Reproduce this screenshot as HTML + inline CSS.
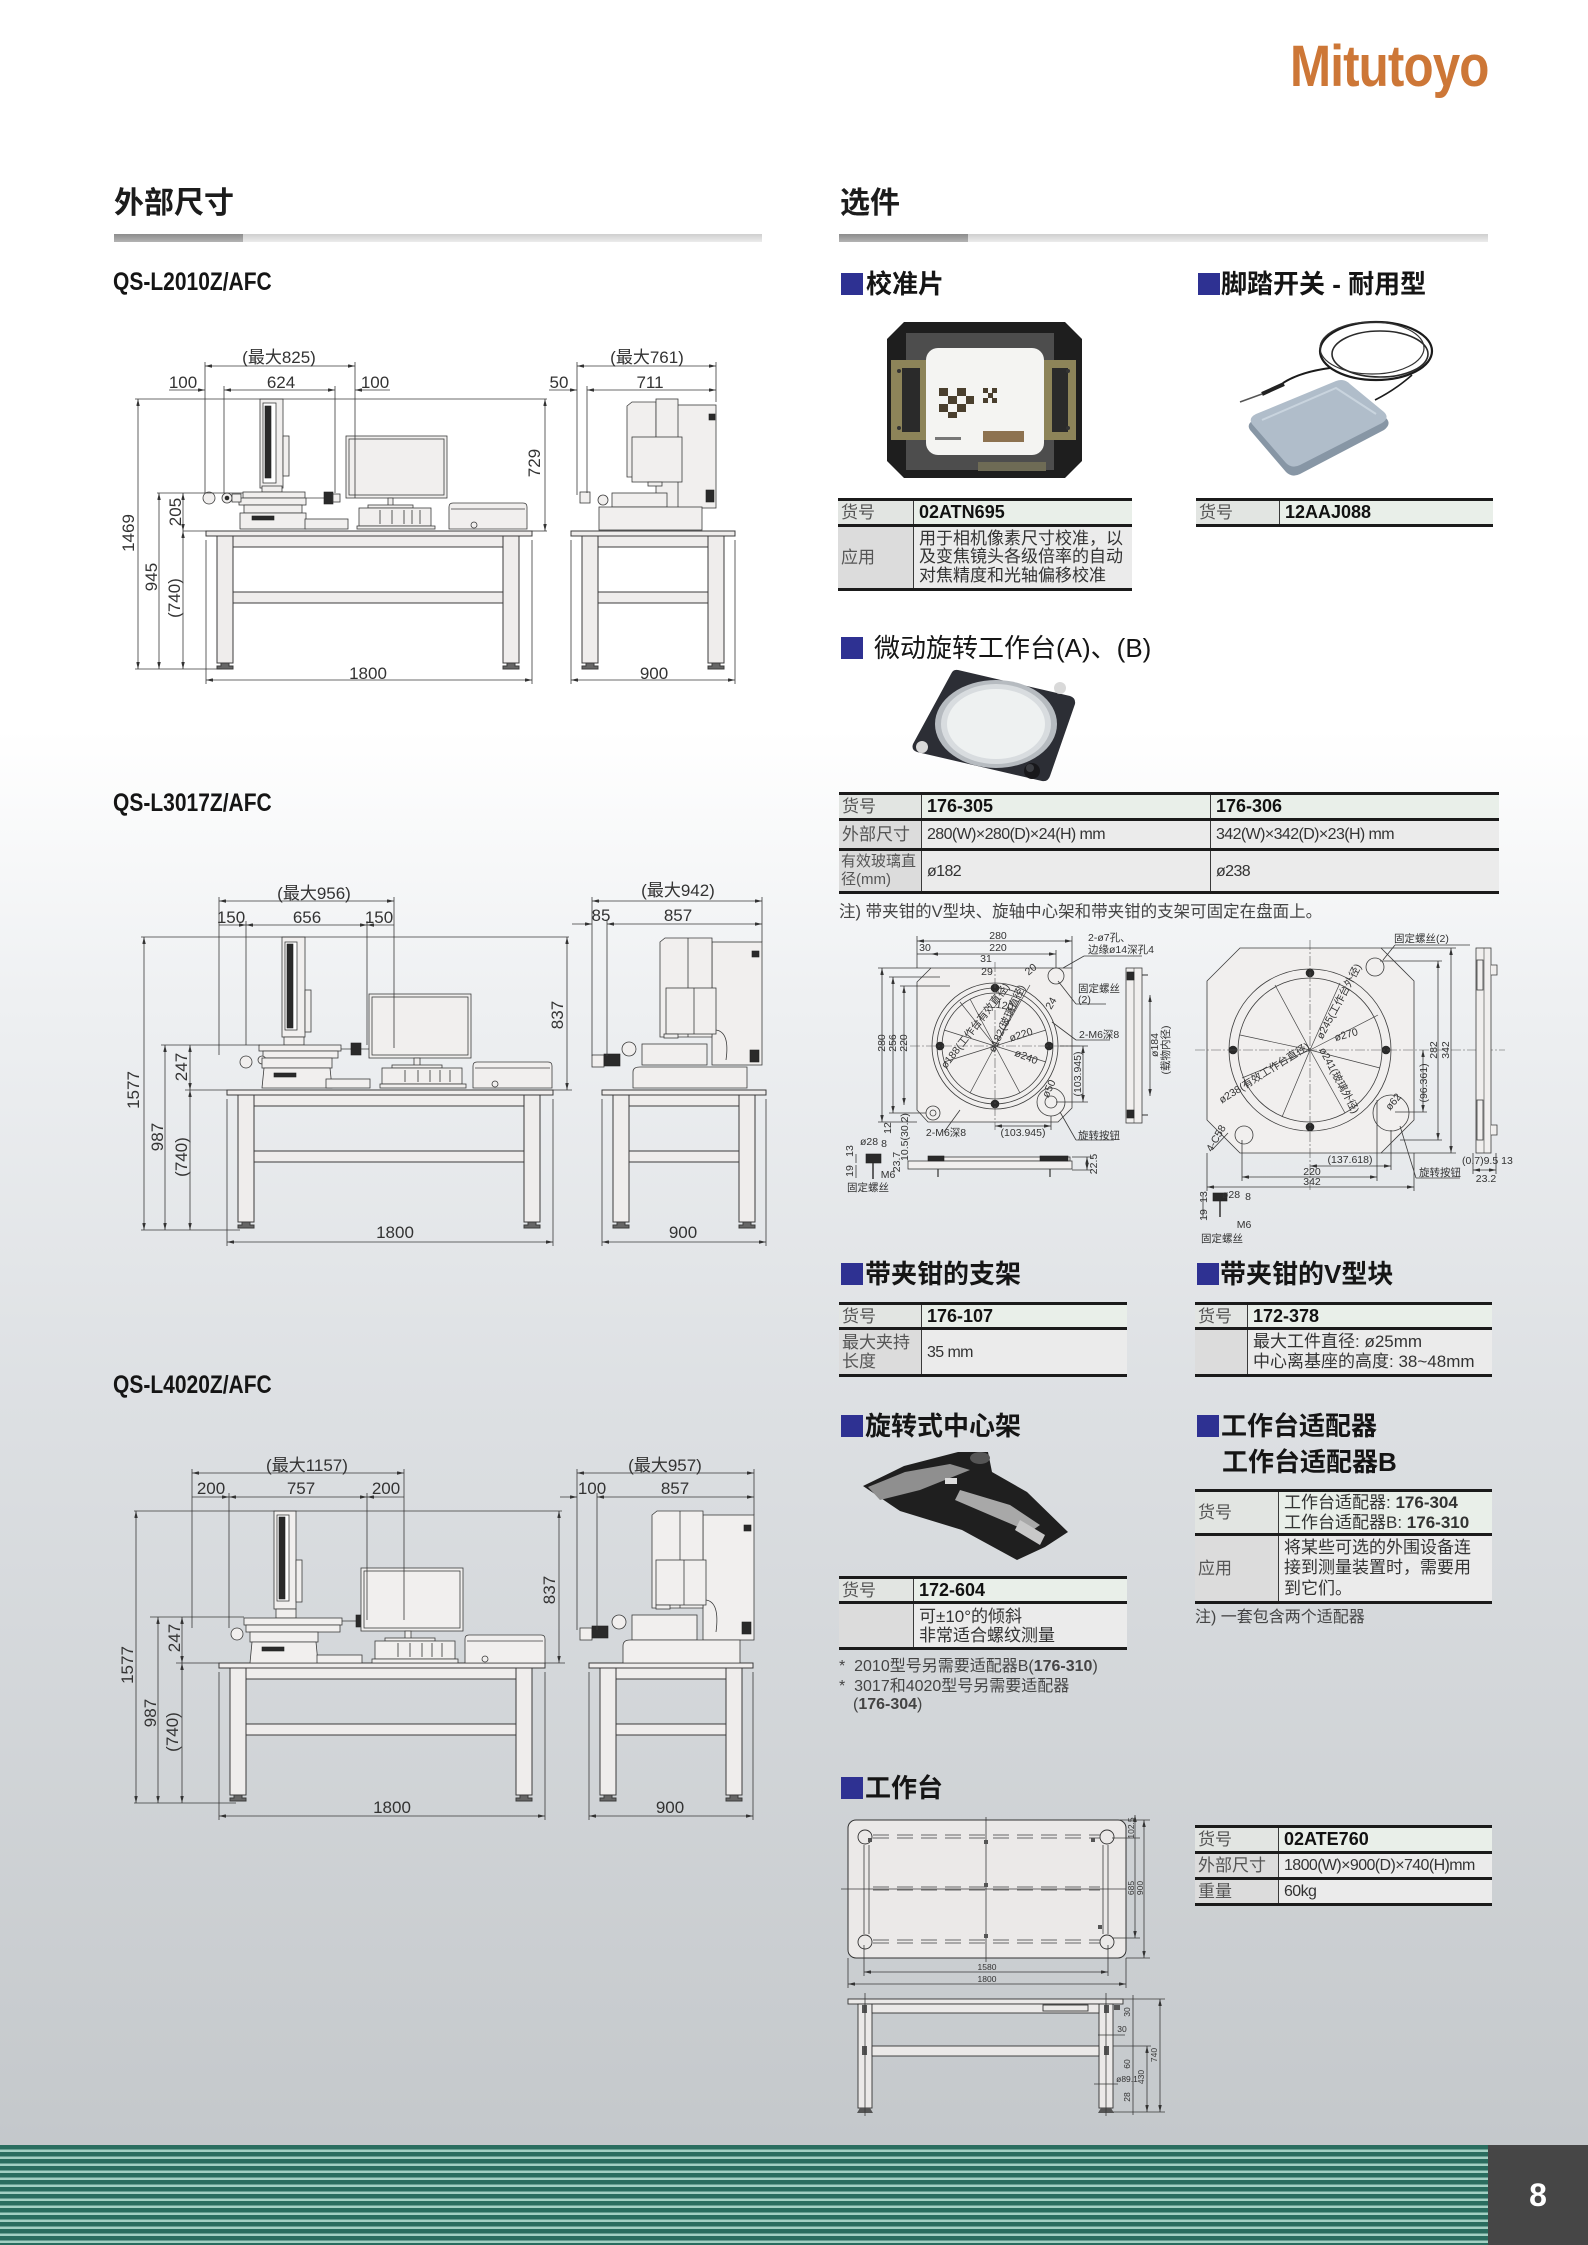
<!DOCTYPE html>
<html><head><meta charset="utf-8"><title>QS-L</title>
<style>
*{margin:0;padding:0;box-sizing:border-box}
html,body{width:1588px;height:2245px}
body{position:relative;overflow:hidden;font-family:"Liberation Sans","Noto Sans CJK SC",sans-serif;color:#222;
background:linear-gradient(180deg,#ffffff 0px,#ffffff 730px,#eef0f2 1000px,#dde0e3 1400px,#c4c8cb 2145px,#c4c8cb 2245px)}
svg.main{position:absolute;left:0;top:0}
.a{position:absolute;white-space:nowrap}
.h1{font-size:30px;line-height:30px;font-weight:bold;color:#1c1c1c}
.qs{font-family:"Liberation Sans Narrow","Liberation Sans",sans-serif;font-size:25px;line-height:25px;font-weight:bold;color:#151515;transform:scaleX(0.84);transform-origin:0 0}
.sq{position:absolute;width:22px;height:22px;background:#2e3192}
.st{position:absolute;white-space:nowrap;font-size:26px;line-height:26px;font-weight:bold;color:#151515}
.bar{position:absolute;height:8px;background:linear-gradient(#cfcfcf,#ececec)}
.bar i{position:absolute;left:0;top:0;height:8px;width:129px;background:linear-gradient(#8c8c8c,#b3b3b3)}
.tb{position:absolute;border-top:3px solid #1b1b1b;border-bottom:3px solid #1b1b1b}
.r{display:flex}
.r+.r{border-top:3px solid #1b1b1b}
.l{background:#dcdcdc;color:#555;border-right:1.5px solid #3a3a3a;padding-left:3px;display:flex;align-items:center;font-size:17px;line-height:19px;flex:none;white-space:nowrap;overflow:hidden}
.v{flex:1;background:#ebebeb;color:#333;padding-left:5px;display:flex;align-items:center;font-size:17px;line-height:19px;white-space:nowrap;overflow:hidden}
.v2{border-right:1.5px solid #3a3a3a;flex:none}
.hd .l{background:#e2e5e2}
.hd .v{background:#e9efe9;color:#111;font-weight:bold;font-size:18px}
.n{font-family:"Liberation Sans Narrow","Liberation Sans","Noto Sans CJK SC",sans-serif}
.v.n{font-size:16px;letter-spacing:-0.6px}
.note{position:absolute;white-space:nowrap;font-size:16px;line-height:18px;color:#444}
.foot{position:absolute;left:0;top:2145px;width:1488px;height:100px;background:repeating-linear-gradient(180deg,#2a6d5f 0px,#2a6d5f 4.5px,#a3d0c3 4.5px,#a3d0c3 7px)}
.pg{position:absolute;left:1488px;top:2145px;width:100px;height:100px;background:#464646;color:#fff;font-family:"Liberation Sans Narrow","Liberation Sans",sans-serif;font-size:32px;line-height:100px;text-align:center;font-weight:bold}
</style></head><body>

<svg class="main" width="1588" height="2245" viewBox="0 0 1588 2245" xmlns="http://www.w3.org/2000/svg">
<defs>
<marker id="ar" viewBox="0 0 8 4" refX="8" refY="2" markerWidth="7" markerHeight="3.5" orient="auto-start-reverse" markerUnits="userSpaceOnUse"><path d="M0,0L8,2L0,4z" fill="#333"/></marker>
<g id="tf" fill="#efedec" stroke="#3c3c3c" stroke-width="1">
 <rect x="0" y="0" width="326" height="5"/>
 <rect x="11" y="5" width="16" height="127"/>
 <rect x="297" y="5" width="16" height="127"/>
 <rect x="27" y="5" width="270" height="11"/>
 <rect x="27" y="61" width="270" height="11"/>
 <path d="M15,132h8v3h4v3h-16v-3h4z M301,132h8v3h4v3h-16v-3h4z" fill="#666"/>
</g>
<g id="ts" fill="#efedec" stroke="#3c3c3c" stroke-width="1">
 <rect x="0" y="0" width="164" height="5"/>
 <rect x="11" y="5" width="16" height="127"/>
 <rect x="137" y="5" width="16" height="127"/>
 <rect x="27" y="5" width="110" height="11"/>
 <rect x="27" y="61" width="110" height="11"/>
 <path d="M15,132h8v3h4v3h-16v-3h4z M141,132h8v3h4v3h-16v-3h4z" fill="#666"/>
</g>
</defs>
<style>
.dl line,.dl path.o{stroke:#3a3a3a;stroke-width:0.8;fill:none}
.dm{marker-start:url(#ar);marker-end:url(#ar)}
.me{marker-end:url(#ar)}
.t{font-family:"Liberation Sans Narrow","Liberation Sans","Noto Sans CJK SC",sans-serif;font-size:17px;fill:#333;text-anchor:middle}
.s{font-family:"Liberation Sans Narrow","Liberation Sans","Noto Sans CJK SC",sans-serif;font-size:10.5px;fill:#333;text-anchor:middle}
.sl{text-anchor:start}
.xs{font-family:"Liberation Sans Narrow","Liberation Sans",sans-serif;font-size:8.5px;fill:#333;text-anchor:middle}
.m{fill:#f1efee;stroke:#3c3c3c;stroke-width:0.8}
.k{fill:#2a2a2a;stroke:#222;stroke-width:0.6}
.cl{stroke:#555;stroke-width:0.6;stroke-dasharray:10 2 2 2;fill:none}
</style>

<!-- ============ DRAWING 1 (QS-L2010Z) ============ -->
<use href="#tf" x="206" y="531"/>
<use href="#ts" x="571" y="531"/>
<g class="m">
 <rect x="260" y="399" width="23" height="89"/>
 <rect x="263" y="403" width="13" height="80" fill="#fff"/>
 <rect x="265" y="406" width="6" height="72" class="k"/>
 <rect x="283" y="436" width="6" height="40"/>
 <rect x="262" y="486" width="20" height="6"/>
 <rect x="243" y="492" width="62" height="6"/>
 <rect x="239" y="498" width="67" height="7"/>
 <line x1="306" y1="498" x2="330" y2="498"/>
 <rect x="324" y="492" width="9" height="12" class="k"/>
 <rect x="333" y="494" width="7" height="8"/>
 <circle cx="209" cy="498" r="6"/>
 <circle cx="227" cy="498" r="5"/>
 <circle cx="227" cy="498" r="2" class="k"/>
 <rect x="232" y="494" width="9" height="8"/>
 <rect x="244" y="505" width="58" height="8"/>
 <rect x="240" y="513" width="66" height="16"/>
 <rect x="252" y="516" width="22" height="4" class="k"/>
 <rect x="305" y="519" width="43" height="10"/>
 <rect x="346" y="436" width="101" height="62"/>
 <rect x="349" y="439" width="95" height="56"/>
 <rect x="388" y="498" width="5" height="8"/>
 <rect x="368" y="505" width="45" height="3"/>
 <rect x="359" y="508" width="72" height="18"/>
 <path d="M380,510v14M392,510v14M404,510v14M412,510v14M420,510v14" stroke="#333" fill="none"/>
 <rect x="357" y="526" width="78" height="3"/>
 <path d="M449,529V507Q449,503 453,503H523Q527,503 527,507V529Z"/>
 <line x1="451" y1="509" x2="525" y2="509"/>
 <circle cx="474" cy="525" r="3"/>
 <!-- side -->
 <rect x="676" y="405" width="40" height="103"/>
 <path d="M627,406L632,402H656V477H627Z"/>
 <rect x="656" y="399" width="22" height="109"/>
 <rect x="632" y="437" width="50" height="45"/>
 <rect x="648" y="482" width="14" height="4"/>
 <rect x="612" y="493" width="55" height="14"/>
 <rect x="599" y="507" width="103" height="23"/>
 <circle cx="603" cy="500" r="5"/>
 <rect x="580" y="492" width="10" height="11"/>
 <rect x="709" y="414" width="6" height="6" class="k"/>
 <rect x="706" y="490" width="8" height="12" class="k"/>
</g>
<g class="dl">
 <line x1="205" y1="366" x2="355" y2="366" class="dm"/>
 <line x1="224" y1="390" x2="335" y2="390" class="dm"/>
 <line x1="169" y1="390" x2="205" y2="390" class="me"/>
 <line x1="390" y1="390" x2="355" y2="390" class="me"/>
 <line x1="205" y1="362" x2="205" y2="493"/>
 <line x1="224" y1="386" x2="224" y2="493"/>
 <line x1="335" y1="386" x2="335" y2="493"/>
 <line x1="355" y1="362" x2="355" y2="498"/>
 <line x1="135" y1="399" x2="547" y2="399"/>
 <line x1="157" y1="493" x2="243" y2="493"/>
 <line x1="183" y1="531" x2="206" y2="531"/>
 <line x1="532" y1="531" x2="547" y2="531"/>
 <line x1="135" y1="669" x2="222" y2="669"/>
 <line x1="138" y1="399" x2="138" y2="669" class="dm"/>
 <line x1="159" y1="493" x2="159" y2="669" class="dm"/>
 <line x1="183" y1="493" x2="183" y2="531" class="dm"/>
 <line x1="183" y1="531" x2="183" y2="669" class="dm"/>
 <line x1="545" y1="399" x2="545" y2="531" class="dm"/>
 <line x1="206" y1="680" x2="532" y2="680" class="dm"/>
 <line x1="206" y1="540" x2="206" y2="684"/>
 <line x1="532" y1="540" x2="532" y2="684"/>
 <line x1="571" y1="680" x2="735" y2="680" class="dm"/>
 <line x1="571" y1="540" x2="571" y2="684"/>
 <line x1="735" y1="540" x2="735" y2="684"/>
 <line x1="577" y1="366" x2="716" y2="366" class="dm"/>
 <line x1="549" y1="390" x2="577" y2="390" class="me"/>
 <line x1="587" y1="390" x2="716" y2="390" class="dm"/>
 <line x1="577" y1="362" x2="577" y2="495"/>
 <line x1="587" y1="386" x2="587" y2="493"/>
 <line x1="716" y1="362" x2="716" y2="402"/>
</g>
<text class="t" x="279" y="363">(最大825)</text>
<text class="t" x="183" y="388">100</text><text class="t" x="281" y="388">624</text><text class="t" x="375" y="388">100</text>
<text class="t" transform="translate(134,533) rotate(-90)">1469</text>
<text class="t" transform="translate(157,577) rotate(-90)">945</text>
<text class="t" transform="translate(181,512) rotate(-90)">205</text>
<text class="t" transform="translate(180,598) rotate(-90)">(740)</text>
<text class="t" transform="translate(540,463) rotate(-90)">729</text>
<text class="t" x="368" y="679">1800</text>
<text class="t" x="654" y="679">900</text>
<text class="t" x="647" y="363">(最大761)</text>
<text class="t" x="559" y="388">50</text><text class="t" x="650" y="388">711</text>

<!-- ============ DRAWING 2 (QS-L3017Z) ============ -->
<use href="#tf" x="227" y="1090"/>
<use href="#ts" x="602" y="1090"/>
<g class="m">
 <rect x="282" y="937" width="23" height="100"/>
 <rect x="285" y="942" width="12" height="88" fill="#fff"/>
 <rect x="287" y="944" width="6" height="84" class="k"/>
 <rect x="305" y="990" width="6" height="42"/>
 <rect x="284" y="1037" width="20" height="8"/>
 <rect x="259" y="1045" width="82" height="6"/>
 <rect x="263" y="1051" width="75" height="7"/>
 <circle cx="246" cy="1062" r="6"/>
 <circle cx="262" cy="1060" r="4"/>
 <line x1="341" y1="1049" x2="385" y2="1049"/>
 <rect x="351" y="1043" width="10" height="12" class="k"/>
 <rect x="380" y="1043" width="8" height="10"/>
 <rect x="262" y="1058" width="70" height="10"/>
 <path d="M264,1068H330L332,1088H262Z"/>
 <rect x="274" y="1073" width="22" height="4" class="k"/>
 <rect x="326" y="1079" width="44" height="9"/>
 <rect x="369" y="994" width="102" height="64"/>
 <rect x="372" y="997" width="96" height="58"/>
 <rect x="414" y="1058" width="6" height="8"/>
 <rect x="392" y="1065" width="50" height="3"/>
 <rect x="382" y="1068" width="80" height="16"/>
 <path d="M405,1070v12M418,1070v12M430,1070v12M440,1070v12M450,1070v12" stroke="#333" fill="none"/>
 <rect x="380" y="1084" width="86" height="4"/>
 <path d="M473,1088V1066Q473,1062 477,1062H548Q552,1062 552,1066V1088Z"/>
 <line x1="475" y1="1068" x2="550" y2="1068"/>
 <circle cx="495" cy="1084" r="3"/>
 <!-- side -->
 <rect x="712" y="942" width="50" height="123"/>
 <path d="M660,942L665,938H712V1037H660Z"/>
 <line x1="688" y1="938" x2="688" y2="1037"/>
 <rect x="666" y="988" width="50" height="46"/>
 <line x1="694" y1="988" x2="694" y2="1034"/>
 <rect x="664" y="1034" width="14" height="4"/>
 <path d="M716,1030Q730,1032 726,1060" fill="none"/>
 <rect x="642" y="1044" width="65" height="21"/>
 <path d="M633,1088V1072Q633,1067 640,1067H747V1088Z"/>
 <circle cx="629" cy="1049" r="7"/>
 <rect x="592" y="1055" width="12" height="12"/>
 <rect x="604" y="1054" width="16" height="12" class="k"/>
 <rect x="752" y="951" width="7" height="6" class="k"/>
 <rect x="750" y="1050" width="9" height="12" class="k"/>
</g>
<g class="dl">
 <line x1="219" y1="901" x2="394" y2="901" class="dm"/>
 <line x1="246" y1="925" x2="367" y2="925" class="dm"/>
 <line x1="219" y1="925" x2="246" y2="925" class="me"/>
 <line x1="394" y1="925" x2="367" y2="925" class="me"/>
 <line x1="219" y1="897" x2="219" y2="1055"/>
 <line x1="246" y1="921" x2="246" y2="1045"/>
 <line x1="367" y1="921" x2="367" y2="1045"/>
 <line x1="394" y1="897" x2="394" y2="1048"/>
 <line x1="141" y1="937" x2="569" y2="937"/>
 <line x1="161" y1="1045" x2="260" y2="1045"/>
 <line x1="185" y1="1090" x2="227" y2="1090"/>
 <line x1="553" y1="1090" x2="572" y2="1090"/>
 <line x1="141" y1="1230" x2="240" y2="1230"/>
 <line x1="144" y1="937" x2="144" y2="1230" class="dm"/>
 <line x1="165" y1="1045" x2="165" y2="1230" class="dm"/>
 <line x1="190" y1="1045" x2="190" y2="1090" class="dm"/>
 <line x1="190" y1="1090" x2="190" y2="1230" class="dm"/>
 <line x1="567" y1="937" x2="567" y2="1090" class="dm"/>
 <line x1="227" y1="1242" x2="553" y2="1242" class="dm"/>
 <line x1="227" y1="1099" x2="227" y2="1246"/>
 <line x1="553" y1="1099" x2="553" y2="1246"/>
 <line x1="602" y1="1242" x2="766" y2="1242" class="dm"/>
 <line x1="602" y1="1099" x2="602" y2="1246"/>
 <line x1="766" y1="1099" x2="766" y2="1246"/>
 <line x1="592" y1="901" x2="762" y2="901" class="dm"/>
 <line x1="572" y1="924" x2="592" y2="924" class="me"/>
 <line x1="607" y1="924" x2="762" y2="924" class="dm"/>
 <line x1="592" y1="897" x2="592" y2="1056"/>
 <line x1="607" y1="920" x2="607" y2="1056"/>
 <line x1="762" y1="897" x2="762" y2="942"/>
</g>
<text class="t" x="314" y="899">(最大956)</text>
<text class="t" x="231" y="923">150</text><text class="t" x="307" y="923">656</text><text class="t" x="379" y="923">150</text>
<text class="t" transform="translate(139,1090) rotate(-90)">1577</text>
<text class="t" transform="translate(163,1137) rotate(-90)">987</text>
<text class="t" transform="translate(187,1067) rotate(-90)">247</text>
<text class="t" transform="translate(187,1157) rotate(-90)">(740)</text>
<text class="t" transform="translate(563,1015) rotate(-90)">837</text>
<text class="t" x="395" y="1238">1800</text>
<text class="t" x="683" y="1238">900</text>
<text class="t" x="678" y="896">(最大942)</text>
<text class="t" x="601" y="921">85</text><text class="t" x="678" y="921">857</text>

<!-- ============ DRAWING 3 (QS-L4020Z) ============ -->
<use href="#tf" x="219" y="1663"/>
<use href="#ts" x="589" y="1663"/>
<g class="m">
 <rect x="274" y="1511" width="22" height="98"/>
 <rect x="277" y="1515" width="12" height="86" fill="#fff"/>
 <rect x="279" y="1517" width="6" height="82" class="k"/>
 <rect x="296" y="1560" width="6" height="42"/>
 <rect x="276" y="1609" width="20" height="9"/>
 <rect x="244" y="1618" width="98" height="7"/>
 <rect x="246" y="1625" width="94" height="7"/>
 <circle cx="237" cy="1634" r="6"/>
 <line x1="342" y1="1621" x2="405" y2="1621"/>
 <rect x="356" y="1615" width="10" height="12" class="k"/>
 <rect x="393" y="1615" width="8" height="10"/>
 <rect x="250" y="1632" width="68" height="10"/>
 <path d="M252,1642H316L318,1663H250Z"/>
 <rect x="262" y="1647" width="22" height="4" class="k"/>
 <rect x="317" y="1655" width="45" height="8"/>
 <rect x="361" y="1568" width="102" height="63"/>
 <rect x="364" y="1571" width="96" height="57"/>
 <rect x="405" y="1631" width="6" height="8"/>
 <rect x="385" y="1638" width="50" height="3"/>
 <rect x="375" y="1641" width="80" height="18"/>
 <path d="M398,1643v14M410,1643v14M422,1643v14M432,1643v14M442,1643v14" stroke="#333" fill="none"/>
 <rect x="372" y="1659" width="86" height="4"/>
 <path d="M465,1663V1639Q465,1635 469,1635H541Q545,1635 545,1639V1663Z"/>
 <line x1="467" y1="1641" x2="543" y2="1641"/>
 <circle cx="485" cy="1659" r="3"/>
 <!-- side -->
 <rect x="703" y="1515" width="51" height="125"/>
 <path d="M652,1515L657,1511H703V1608H652Z"/>
 <line x1="680" y1="1511" x2="680" y2="1608"/>
 <rect x="656" y="1560" width="50" height="45"/>
 <line x1="684" y1="1560" x2="684" y2="1605"/>
 <rect x="656" y="1605" width="14" height="4"/>
 <path d="M706,1600Q720,1602 716,1632" fill="none"/>
 <rect x="632" y="1615" width="65" height="25"/>
 <path d="M623,1663V1646Q623,1640 630,1640H740V1663Z"/>
 <circle cx="619" cy="1622" r="7"/>
 <rect x="580" y="1628" width="12" height="12"/>
 <rect x="592" y="1626" width="16" height="12" class="k"/>
 <rect x="744" y="1525" width="7" height="6" class="k"/>
 <rect x="742" y="1622" width="9" height="12" class="k"/>
</g>
<g class="dl">
 <line x1="192" y1="1473" x2="404" y2="1473" class="dm"/>
 <line x1="229" y1="1497" x2="367" y2="1497" class="dm"/>
 <line x1="192" y1="1497" x2="229" y2="1497" class="me"/>
 <line x1="404" y1="1497" x2="367" y2="1497" class="me"/>
 <line x1="192" y1="1469" x2="192" y2="1628"/>
 <line x1="229" y1="1493" x2="229" y2="1628"/>
 <line x1="367" y1="1493" x2="367" y2="1620"/>
 <line x1="404" y1="1469" x2="404" y2="1620"/>
 <line x1="134" y1="1511" x2="562" y2="1511"/>
 <line x1="150" y1="1617" x2="244" y2="1617"/>
 <line x1="176" y1="1663" x2="219" y2="1663"/>
 <line x1="545" y1="1663" x2="565" y2="1663"/>
 <line x1="134" y1="1803" x2="236" y2="1803"/>
 <line x1="136" y1="1511" x2="136" y2="1803" class="dm"/>
 <line x1="158" y1="1617" x2="158" y2="1803" class="dm"/>
 <line x1="182" y1="1617" x2="182" y2="1663" class="dm"/>
 <line x1="182" y1="1663" x2="182" y2="1803" class="dm"/>
 <line x1="559" y1="1511" x2="559" y2="1663" class="dm"/>
 <line x1="219" y1="1816" x2="545" y2="1816" class="dm"/>
 <line x1="219" y1="1672" x2="219" y2="1820"/>
 <line x1="545" y1="1672" x2="545" y2="1820"/>
 <line x1="589" y1="1816" x2="753" y2="1816" class="dm"/>
 <line x1="589" y1="1672" x2="589" y2="1820"/>
 <line x1="753" y1="1672" x2="753" y2="1820"/>
 <line x1="577" y1="1473" x2="754" y2="1473" class="dm"/>
 <line x1="560" y1="1497" x2="577" y2="1497" class="me"/>
 <line x1="597" y1="1497" x2="754" y2="1497" class="dm"/>
 <line x1="577" y1="1469" x2="577" y2="1630"/>
 <line x1="597" y1="1493" x2="597" y2="1630"/>
 <line x1="754" y1="1469" x2="754" y2="1515"/>
</g>
<text class="t" x="307" y="1471">(最大1157)</text>
<text class="t" x="211" y="1494">200</text><text class="t" x="301" y="1494">757</text><text class="t" x="386" y="1494">200</text>
<text class="t" transform="translate(133,1665) rotate(-90)">1577</text>
<text class="t" transform="translate(156,1713) rotate(-90)">987</text>
<text class="t" transform="translate(180,1638) rotate(-90)">247</text>
<text class="t" transform="translate(178,1732) rotate(-90)">(740)</text>
<text class="t" transform="translate(555,1590) rotate(-90)">837</text>
<text class="t" x="392" y="1813">1800</text>
<text class="t" x="670" y="1813">900</text>
<text class="t" x="665" y="1471">(最大957)</text>
<text class="t" x="592" y="1494">100</text><text class="t" x="675" y="1494">857</text>

<!-- ============ PHOTO: calibration plate ============ -->
<path d="M904,322H1065L1082,339V461L1065,478H904L887,461V339Z" fill="#1e1e1e"/>
<rect x="906" y="333" width="148" height="137" fill="#4d4d4d"/>
<rect x="891" y="360" width="37" height="80" fill="#8d8459"/>
<rect x="902" y="368" width="18" height="64" fill="#2a2a2a"/>
<rect x="1044" y="360" width="32" height="80" fill="#8d8459"/>
<rect x="1052" y="368" width="16" height="64" fill="#2a2a2a"/>
<circle cx="899" cy="371" r="2" fill="#333"/><circle cx="899" cy="428" r="2" fill="#333"/>
<circle cx="1068" cy="371" r="2" fill="#333"/><circle cx="1068" cy="428" r="2" fill="#333"/>
<rect x="926" y="348" width="118" height="107" rx="12" fill="#f4f4f2"/>
<g fill="#4a3f2e">
 <rect x="939" y="388" width="9" height="8"/><rect x="957" y="388" width="9" height="8"/><rect x="948" y="396" width="9" height="8"/><rect x="966" y="396" width="8" height="8"/>
 <rect x="939" y="404" width="9" height="8"/><rect x="957" y="404" width="9" height="8"/><rect x="948" y="412" width="9" height="6"/>
 <rect x="983" y="388" width="5" height="5"/><rect x="992" y="388" width="5" height="5"/><rect x="988" y="393" width="5" height="5"/><rect x="983" y="398" width="5" height="5"/><rect x="992" y="398" width="5" height="5"/>
</g>
<rect x="983" y="431" width="41" height="11" fill="#8d7250"/>
<rect x="935" y="437" width="26" height="3" fill="#777"/>
<rect x="978" y="462" width="68" height="9" fill="#6e6b55"/>

<!-- ============ PHOTO: foot switch ============ -->
<ellipse cx="1376" cy="351" rx="56" ry="29" fill="none" stroke="#1b1b1b" stroke-width="2.2"/>
<ellipse cx="1380" cy="354" rx="48" ry="23" fill="none" stroke="#2a2a2a" stroke-width="1.6"/>
<ellipse cx="1372" cy="348" rx="52" ry="26" fill="none" stroke="#333" stroke-width="1.2"/>
<path d="M1283,383Q1300,372 1330,368" fill="none" stroke="#1b1b1b" stroke-width="2"/>
<path d="M1375,400Q1395,390 1412,375" fill="none" stroke="#1b1b1b" stroke-width="1.6"/>
<path d="M1240,402L1262,394" stroke="#555" stroke-width="1.5"/>
<path d="M1262,394L1284,384" stroke="#222" stroke-width="4"/>
<path d="M1250,430Q1246,424 1254,420L1336,385Q1344,382 1350,388L1386,418Q1392,424 1384,430L1300,474Q1292,478 1286,472Z" fill="#8796a5"/>
<path d="M1252,424Q1248,418 1256,414L1336,381Q1344,378 1350,384L1384,412Q1390,418 1382,423L1300,465Q1292,469 1286,463Z" fill="#b0bdca"/>
<path d="M1262,420L1336,388L1376,414" fill="none" stroke="#c9d4de" stroke-width="2"/>

<!-- ============ PHOTO: rotary table ============ -->
<path d="M958,670L1070,696Q1076,698 1075,704L1050,776Q1048,782 1042,781L917,752Q911,750 913,744L951,674Q953,669 958,670Z" fill="#2c2e35"/>
<ellipse cx="996" cy="724" rx="61" ry="44" fill="#b6bbc0"/>
<ellipse cx="996" cy="724" rx="55" ry="40" fill="#d8dcdf"/>
<ellipse cx="996" cy="724" rx="49" ry="35" fill="#eef1f1"/>
<circle cx="1060" cy="688" r="6" fill="#d9d9d9"/>
<circle cx="922" cy="747" r="6" fill="#d9d9d9"/>
<circle cx="1032" cy="771" r="8" fill="#18181b"/>
<circle cx="1030" cy="768" r="4" fill="#3b3d42"/>

<!-- ============ ROTARY A drawing ============ -->
<path d="M931,968H1072V1108L1058,1122H928L917,1110V982Z" class="m" fill="#ecebea"/>
<circle cx="995" cy="1046" r="63" class="m"/>
<circle cx="995" cy="1046" r="58" class="m"/>
<circle cx="995" cy="1046" r="53" class="m" fill="#efeeed"/>
<g stroke="#444" stroke-width="0.7">
 <line x1="995" y1="1046" x2="1046" y2="1030"/><line x1="995" y1="1046" x2="1020" y2="999"/>
 <line x1="995" y1="1046" x2="970" y2="999"/><line x1="995" y1="1046" x2="944" y2="1030"/>
 <line x1="995" y1="1046" x2="944" y2="1062"/><line x1="995" y1="1046" x2="970" y2="1093"/>
 <line x1="995" y1="1046" x2="1020" y2="1093"/><line x1="995" y1="1046" x2="1046" y2="1062"/>
 <line x1="995" y1="1046" x2="960" y2="1002"/><line x1="995" y1="1046" x2="1030" y2="985"/>
</g>
<circle cx="995" cy="988" r="4" class="k"/><circle cx="995" cy="1104" r="4" class="k"/>
<circle cx="940" cy="1046" r="4" class="k"/><circle cx="1049" cy="1046" r="4" class="k"/>
<circle cx="1056" cy="976" r="8" class="m"/>
<circle cx="933" cy="1113" r="7" class="m"/><circle cx="933" cy="1113" r="3" class="m"/>
<circle cx="1051" cy="1102" r="14" class="m"/><circle cx="1051" cy="1102" r="6" class="m"/>
<line x1="910" y1="1046" x2="1080" y2="1046" class="cl"/>
<line x1="995" y1="962" x2="995" y2="1130" class="cl"/>
<rect x="1126" y="968" width="16" height="155" class="m"/>
<line x1="1134" y1="968" x2="1134" y2="1123" stroke="#444" stroke-width="0.6"/>
<rect x="1127" y="972" width="7" height="8" class="k"/><rect x="1127" y="1110" width="7" height="8" class="k"/>
<path d="M1142,975h6M1142,1115h6" stroke="#333"/>
<rect x="930" y="1157" width="140" height="4" class="m"/>
<rect x="908" y="1161" width="164" height="8" class="m"/>
<rect x="928" y="1156" width="16" height="5" class="k"/><rect x="1040" y="1156" width="28" height="5" class="k"/>
<path d="M938,1169v8M1050,1169v8" stroke="#333" stroke-width="1.2"/>
<rect x="866" y="1154" width="15" height="9" class="k"/>
<path d="M873,1163v16" stroke="#333" stroke-width="1.5"/>
<g class="dl">
 <line x1="917" y1="941" x2="1072" y2="941" class="dm"/>
 <line x1="931" y1="954" x2="1056" y2="954" class="dm"/>
 <line x1="917" y1="954" x2="931" y2="954"/>
 <line x1="917" y1="936" x2="917" y2="968"/>
 <line x1="1072" y1="936" x2="1072" y2="968"/>
 <line x1="1056" y1="950" x2="1056" y2="968"/>
 <line x1="882" y1="968" x2="882" y2="1122" class="dm"/>
 <line x1="893" y1="977" x2="893" y2="1113" class="dm"/>
 <line x1="904" y1="986" x2="904" y2="1105" class="dm"/>
 <line x1="878" y1="968" x2="931" y2="968"/>
 <line x1="889" y1="977" x2="940" y2="977"/>
 <line x1="900" y1="986" x2="950" y2="986"/>
 <line x1="878" y1="1122" x2="917" y2="1122"/>
 <line x1="889" y1="1113" x2="926" y2="1113"/>
 <line x1="1083" y1="1046" x2="1083" y2="1102" class="dm"/>
 <line x1="1056" y1="1102" x2="1088" y2="1102"/>
 <line x1="1060" y1="1046" x2="1088" y2="1046"/>
 <line x1="995" y1="1126" x2="1051" y2="1126" class="dm"/>
 <line x1="1051" y1="1116" x2="1051" y2="1130"/>
 <line x1="1150" y1="995" x2="1150" y2="1096" class="dm"/>
 <line x1="1058" y1="981" x2="1076" y2="1004"/><line x1="1076" y1="1004" x2="1106" y2="1004"/>
 <line x1="1052" y1="1022" x2="1076" y2="1040"/><line x1="1076" y1="1040" x2="1110" y2="1040"/>
 <line x1="1060" y1="1112" x2="1076" y2="1140"/><line x1="1076" y1="1140" x2="1114" y2="1140"/>
 <line x1="1063" y1="968" x2="1084" y2="956"/><line x1="1084" y1="956" x2="1142" y2="956"/>
 <line x1="960" y1="1110" x2="944" y2="1132"/>
 <line x1="1087" y1="1157" x2="1087" y2="1170" class="dm"/>
 <line x1="1072" y1="1157" x2="1092" y2="1157"/><line x1="1072" y1="1170" x2="1092" y2="1170"/>
 <line x1="856" y1="1154" x2="856" y2="1163"/><line x1="856" y1="1165" x2="856" y2="1178"/>
</g>
<text class="s" x="998" y="939">280</text>
<text class="s" x="925" y="951">30</text><text class="s" x="998" y="951">220</text>
<text class="s sl" x="1088" y="941">2-ø7孔、</text>
<text class="s sl" x="1088" y="953">边缘ø14深孔4</text>
<text class="s" x="986" y="962">31</text><text class="s" x="987" y="975">29</text>
<text class="s" transform="translate(1033,972) rotate(-40)">20</text>
<text class="s" transform="translate(1054,1005) rotate(-60)">24</text>
<text class="s sl" x="1078" y="992">固定螺丝</text><text class="s sl" x="1078" y="1003">(2)</text>
<text class="s" transform="translate(1004,1009) rotate(10)">120</text>
<text class="s sl" x="1079" y="1038">2-M6深8</text>
<text class="s" transform="translate(885,1043) rotate(-90)">280</text>
<text class="s" transform="translate(896,1043) rotate(-90)">256</text>
<text class="s" transform="translate(907,1043) rotate(-90)">220</text>
<text class="s" transform="translate(1081,1074) rotate(-90)">(103.945)</text>
<text class="s" transform="translate(1158,1045) rotate(-90)">ø184</text>
<text class="s" transform="translate(1169,1050) rotate(-90)">(载物内径)</text>
<text class="s" x="1023" y="1136">(103.945)</text>
<text class="s" x="946" y="1136">2-M6深8</text>
<text class="s sl" x="1078" y="1139">旋转按钮</text>
<text class="s" transform="translate(978,1028) rotate(-52)">ø188(工作台有效直径)</text>
<text class="s" transform="translate(1010,1020) rotate(-65)">ø182(玻璃直径)</text>
<text class="s" transform="translate(1022,1038) rotate(-18)">ø220</text>
<text class="s" transform="translate(1025,1060) rotate(22)">ø240</text>
<text class="s" transform="translate(1052,1090) rotate(-65)">ø50</text>
<text class="s" transform="translate(891,1128) rotate(-90)">12</text>
<text class="s" transform="translate(908,1137) rotate(-90)">10.5(30.2)</text>
<text class="s" x="869" y="1145">ø28</text><text class="s" x="884" y="1147">8</text>
<text class="s" transform="translate(853,1151) rotate(-90)">13</text>
<text class="s" transform="translate(853,1171) rotate(-90)">19</text>
<text class="s" transform="translate(900,1162) rotate(-90)">23.7</text>
<text class="s" x="888" y="1178">M6</text>
<text class="s" x="868" y="1191">固定螺丝</text>
<text class="s" transform="translate(1097,1164) rotate(-90)">22.5</text>

<!-- ============ ROTARY B drawing ============ -->
<path d="M1240,948H1381L1414,981V1120L1381,1153H1240L1207,1120V981Z" class="m" fill="#ecebea"/>
<circle cx="1310" cy="1050" r="81" class="m"/>
<circle cx="1310" cy="1050" r="72" class="m" fill="#efeeed"/>
<g stroke="#444" stroke-width="0.7">
 <line x1="1310" y1="1050" x2="1378" y2="1015"/><line x1="1310" y1="1050" x2="1340" y2="983"/>
 <line x1="1310" y1="1050" x2="1275" y2="985"/><line x1="1310" y1="1050" x2="1240" y2="1035"/>
 <line x1="1310" y1="1050" x2="1242" y2="1078"/><line x1="1310" y1="1050" x2="1282" y2="1117"/>
 <line x1="1310" y1="1050" x2="1345" y2="1113"/><line x1="1310" y1="1050" x2="1380" y2="1068"/>
</g>
<circle cx="1310" cy="973" r="4" class="k"/><circle cx="1386" cy="1050" r="4" class="k"/>
<circle cx="1310" cy="1127" r="4" class="k"/><circle cx="1233" cy="1050" r="4" class="k"/>
<circle cx="1375" cy="967" r="9" class="m"/>
<circle cx="1244" cy="1135" r="9" class="m"/>
<circle cx="1391" cy="1113" r="18" class="m"/>
<line x1="1195" y1="1050" x2="1505" y2="1050" class="cl"/>
<line x1="1310" y1="940" x2="1310" y2="1190" class="cl"/>
<rect x="1476" y="948" width="15" height="205" class="m"/>
<line x1="1484" y1="948" x2="1484" y2="1153" stroke="#444" stroke-width="0.6"/>
<rect x="1477" y="960" width="6" height="30" class="m"/><rect x="1477" y="1100" width="6" height="40" class="m"/>
<path d="M1491,965h6v10h-6M1491,1125h6v10h-6" class="m"/>
<rect x="1213" y="1193" width="14" height="8" class="k"/>
<path d="M1220,1201v16" stroke="#333" stroke-width="1.5"/>
<g class="dl">
 <line x1="1242" y1="1177" x2="1377" y2="1177" class="dm"/>
 <line x1="1207" y1="1187" x2="1414" y2="1187" class="dm"/>
 <line x1="1310" y1="1166" x2="1391" y2="1166" class="dm"/>
 <line x1="1207" y1="1153" x2="1207" y2="1191"/>
 <line x1="1414" y1="1153" x2="1414" y2="1191"/>
 <line x1="1242" y1="1140" x2="1242" y2="1181"/>
 <line x1="1377" y1="1100" x2="1377" y2="1181"/>
 <line x1="1391" y1="1130" x2="1391" y2="1170"/>
 <line x1="1438" y1="961" x2="1438" y2="1140" class="dm"/>
 <line x1="1451" y1="948" x2="1451" y2="1153" class="dm"/>
 <line x1="1423" y1="1050" x2="1423" y2="1112" class="dm"/>
 <line x1="1381" y1="948" x2="1456" y2="948"/>
 <line x1="1381" y1="1153" x2="1456" y2="1153"/>
 <line x1="1380" y1="961" x2="1442" y2="961"/>
 <line x1="1400" y1="1140" x2="1442" y2="1140"/>
 <line x1="1395" y1="1112" x2="1427" y2="1112"/>
 <line x1="1383" y1="960" x2="1395" y2="945"/><line x1="1395" y1="945" x2="1470" y2="945"/>
 <line x1="1400" y1="1126" x2="1416" y2="1178"/><line x1="1416" y1="1178" x2="1460" y2="1178"/>
 <line x1="1228" y1="1133" x2="1212" y2="1150"/>
 <line x1="1473" y1="1170" x2="1496" y2="1170" class="dm"/>
 <line x1="1473" y1="1153" x2="1473" y2="1174"/><line x1="1496" y1="1153" x2="1496" y2="1174"/>
 <line x1="1203" y1="1193" x2="1203" y2="1201"/><line x1="1203" y1="1201" x2="1203" y2="1217"/>
</g>
<text class="s sl" x="1394" y="942">固定螺丝(2)</text>
<text class="s" transform="translate(1342,1003) rotate(-62)">ø245(工作台外径)</text>
<text class="s" transform="translate(1347,1038) rotate(-15)">ø270</text>
<text class="s" transform="translate(1266,1076) rotate(-32)">ø238(有效工作台直径)</text>
<text class="s" transform="translate(1336,1082) rotate(62)">ø241(玻璃外径)</text>
<text class="s" transform="translate(1437,1050) rotate(-90)">282</text>
<text class="s" transform="translate(1449,1050) rotate(-90)">342</text>
<text class="s" transform="translate(1427,1083) rotate(-90)">(96.361)</text>
<text class="s" transform="translate(1396,1104) rotate(-50)">ø62</text>
<text class="s" x="1350" y="1163">(137.618)</text>
<text class="s" x="1312" y="1175">220</text>
<text class="s" x="1312" y="1185">342</text>
<text class="s sl" x="1419" y="1176">旋转按钮</text>
<text class="s sl" x="1462" y="1164">(0.7)9.5 13</text>
<text class="s" x="1486" y="1182">23.2</text>
<text class="s" transform="translate(1219,1140) rotate(-60)">4-C58</text>
<text class="s" transform="translate(1207,1197) rotate(-90)">13</text>
<text class="s" x="1231" y="1198">ø28</text><text class="s" x="1248" y="1200">8</text>
<text class="s" transform="translate(1207,1215) rotate(-90)">19</text>
<text class="s" x="1244" y="1228">M6</text>
<text class="s" x="1222" y="1242">固定螺丝</text>

<!-- ============ PHOTO: center stand ============ -->
<path d="M863,1486L904,1466L958,1452L988,1452L992,1472L1027,1492L1068,1532L1045,1547L1017,1560L962,1530L900,1511Z" fill="#1f1f1f"/>
<path d="M868,1487L905,1472L950,1464L970,1470L920,1490L880,1500Z" fill="#8f8f8f"/>
<path d="M960,1490L1010,1505L1040,1525L1030,1532L990,1515L955,1500Z" fill="#a8a8a8"/>
<ellipse cx="980" cy="1458" rx="10" ry="6" fill="#555"/>
<rect x="945" y="1478" width="12" height="6" fill="#ddd"/>
<path d="M1020,1520L1045,1535L1040,1545L1015,1530Z" fill="#c8c8c8"/>

<!-- ============ WORKBENCH drawing ============ -->
<rect x="848" y="1820" width="278" height="138" rx="8" fill="#ebe9e8" stroke="#333" stroke-width="1"/>
<g stroke="#3c3c3c" stroke-width="0.8" fill="none">
 <path d="M864,1845V1934M869,1845V1934M1103,1845V1934M1108,1845V1934"/>
 <path d="M873,1835H1100M873,1838H1100M873,1940H1100M873,1943H1100M873,1887H1100M873,1890H1100" stroke-dasharray="16 8"/>
 <line x1="986" y1="1817" x2="986" y2="1962"/>
 <line x1="841" y1="1889" x2="1126" y2="1889"/>
</g>
<g fill="#ebe9e8" stroke="#333" stroke-width="0.9">
 <circle cx="865" cy="1837" r="7"/><circle cx="1107" cy="1837" r="7"/>
 <circle cx="865" cy="1942" r="7"/><circle cx="1107" cy="1942" r="7"/>
</g>
<g fill="#555"><rect x="868" y="1838" width="4" height="4"/><rect x="1091" y="1838" width="4" height="4"/><rect x="984" y="1840" width="4" height="4"/><rect x="984" y="1883" width="4" height="4"/><rect x="984" y="1934" width="4" height="4"/><rect x="1098" y="1925" width="4" height="4"/></g>
<g class="dl">
 <line x1="864" y1="1972" x2="1108" y2="1972" class="dm"/>
 <line x1="848" y1="1984" x2="1126" y2="1984" class="dm"/>
 <line x1="848" y1="1958" x2="848" y2="1988"/><line x1="1126" y1="1958" x2="1126" y2="1988"/>
 <line x1="864" y1="1945" x2="864" y2="1976"/><line x1="1108" y1="1945" x2="1108" y2="1976"/>
 <line x1="1135" y1="1815" x2="1135" y2="1938" class="dm"/>
 <line x1="1144" y1="1820" x2="1144" y2="1958" class="dm"/>
 <line x1="1120" y1="1820" x2="1150" y2="1820"/><line x1="1126" y1="1958" x2="1150" y2="1958"/>
 <line x1="1112" y1="1838" x2="1140" y2="1838"/><line x1="1112" y1="1938" x2="1140" y2="1938"/>
</g>
<text class="xs" x="987" y="1970">1580</text>
<text class="xs" x="987" y="1982">1800</text>
<text class="xs" transform="translate(1134,1828) rotate(-90)">102.5</text>
<text class="xs" transform="translate(1134,1888) rotate(-90)">685</text>
<text class="xs" transform="translate(1143,1888) rotate(-90)">900</text>

<g fill="#ebe9e8" stroke="#333" stroke-width="0.9">
 <rect x="848" y="1999" width="275" height="5"/>
 <rect x="858" y="2004" width="14" height="104"/>
 <rect x="1099" y="2004" width="14" height="104"/>
 <rect x="872" y="2004" width="227" height="9"/>
 <rect x="872" y="2046" width="227" height="10"/>
 <rect x="1043" y="2005" width="45" height="6"/>
</g>
<g fill="#555"><rect x="862" y="2005" width="5" height="8"/><rect x="1104" y="2005" width="5" height="8"/><rect x="862" y="2046" width="5" height="9"/><rect x="1104" y="2046" width="5" height="9"/><rect x="1114" y="2005" width="6" height="5"/>
<path d="M860,2108h10l3,5h-16z M1101,2108h10l3,5h-16z"/></g>
<g class="dl">
 <line x1="865" y1="1993" x2="865" y2="2116"/><line x1="1106" y1="1993" x2="1106" y2="2116"/>
 <line x1="1133" y1="1995" x2="1133" y2="2115"/>
 <line x1="1160" y1="1999" x2="1160" y2="2112" class="dm"/>
 <line x1="1147" y1="2046" x2="1147" y2="2112" class="dm"/>
 <line x1="1120" y1="1999" x2="1165" y2="1999"/><line x1="1113" y1="2046" x2="1151" y2="2046"/>
 <line x1="1113" y1="2112" x2="1165" y2="2112"/>
 <line x1="1098" y1="2035" x2="1125" y2="2035"/>
 <line x1="1094" y1="2084" x2="1118" y2="2084"/>
</g>
<text class="xs" transform="translate(1130,2012) rotate(-90)">30</text>
<text class="xs" x="1122" y="2032">30</text>
<text class="xs" transform="translate(1130,2064) rotate(-90)">60</text>
<text class="xs" x="1127" y="2082">ø89.1</text>
<text class="xs" transform="translate(1144,2077) rotate(-90)">430</text>
<text class="xs" transform="translate(1157,2055) rotate(-90)">740</text>
<text class="xs" transform="translate(1130,2097) rotate(-90)">28</text>
</svg>

<!-- logo -->
<div class="a" style="left:1290px;top:38px;font-family:'Liberation Sans',sans-serif;font-weight:bold;font-size:58px;line-height:58px;color:#cd7737;letter-spacing:-1px;transform:scaleX(0.85);transform-origin:0 0">Mitutoyo</div>

<!-- headers -->
<div class="a h1" style="left:114px;top:189px">外部尺寸</div>
<div class="a h1" style="left:840px;top:189px">选件</div>
<div class="bar" style="left:114px;top:234px;width:648px"><i></i></div>
<div class="bar" style="left:839px;top:234px;width:649px"><i></i></div>

<div class="a qs" style="left:113px;top:270px">QS-L2010Z/AFC</div>
<div class="a qs" style="left:113px;top:791px">QS-L3017Z/AFC</div>
<div class="a qs" style="left:113px;top:1373px">QS-L4020Z/AFC</div>

<!-- section titles -->
<div class="sq" style="left:841px;top:273px"></div><div class="st" style="left:866px;top:271px">校准片</div>
<div class="sq" style="left:1198px;top:273px"></div><div class="st" style="left:1221px;top:271px">脚踏开关 - 耐用型</div>
<div class="sq" style="left:841px;top:637px"></div><div class="st" style="left:874px;top:635px;font-weight:normal">微动旋转工作台<span class="n">(A)、(B)</span></div>
<div class="sq" style="left:841px;top:1263px"></div><div class="st" style="left:865px;top:1261px">带夹钳的支架</div>
<div class="sq" style="left:1197px;top:1263px"></div><div class="st" style="left:1220px;top:1261px">带夹钳的V型块</div>
<div class="sq" style="left:841px;top:1415px"></div><div class="st" style="left:865px;top:1413px">旋转式中心架</div>
<div class="sq" style="left:1197px;top:1415px"></div><div class="st" style="left:1221px;top:1413px">工作台适配器</div>
<div class="st" style="left:1222px;top:1449px">工作台适配器B</div>
<div class="sq" style="left:841px;top:1777px"></div><div class="st" style="left:865px;top:1775px">工作台</div>

<!-- tables -->
<div class="tb" style="left:838px;top:498px;width:294px">
 <div class="r hd" style="height:23px"><div class="l" style="width:76px">货号</div><div class="v">02ATN695</div></div>
 <div class="r" style="height:64px"><div class="l" style="width:76px">应用</div><div class="v" style="line-height:18.5px"><div>用于相机像素尺寸校准，以<br>及变焦镜头各级倍率的自动<br>对焦精度和光轴偏移校准</div></div></div>
</div>

<div class="tb" style="left:1196px;top:498px;width:297px">
 <div class="r hd" style="height:23px"><div class="l" style="width:84px">货号</div><div class="v">12AAJ088</div></div>
</div>

<div class="tb" style="left:839px;top:792px;width:660px">
 <div class="r hd" style="height:23px"><div class="l" style="width:83px">货号</div><div class="v v2" style="width:289px">176-305</div><div class="v">176-306</div></div>
 <div class="r" style="height:30px"><div class="l" style="width:83px">外部尺寸</div><div class="v v2 n" style="width:289px">280(W)×280(D)×24(H) mm</div><div class="v n">342(W)×342(D)×23(H) mm</div></div>
 <div class="r" style="height:43px"><div class="l" style="width:83px;font-size:15px;line-height:18px;padding-left:2px"><div>有效玻璃直<br>径(mm)</div></div><div class="v v2 n" style="width:289px">ø182</div><div class="v n">ø238</div></div>
</div>
<div class="note" style="left:839px;top:903px;font-size:16.5px">注) 带夹钳的V型块、旋轴中心架和带夹钳的支架可固定在盘面上。</div>

<div class="tb" style="left:839px;top:1302px;width:288px">
 <div class="r hd" style="height:22px"><div class="l" style="width:83px">货号</div><div class="v">176-107</div></div>
 <div class="r" style="height:47px"><div class="l" style="width:83px"><div>最大夹持<br>长度</div></div><div class="v n">35 mm</div></div>
</div>

<div class="tb" style="left:1195px;top:1302px;width:297px">
 <div class="r hd" style="height:22px"><div class="l" style="width:53px">货号</div><div class="v">172-378</div></div>
 <div class="r" style="height:47px"><div class="l" style="width:53px"></div><div class="v" style="line-height:20px"><div>最大工件直径: ø25mm<br>中心离基座的高度: 38~48mm</div></div></div>
</div>

<div class="tb" style="left:839px;top:1576px;width:288px">
 <div class="r hd" style="height:22px"><div class="l" style="width:75px">货号</div><div class="v">172-604</div></div>
 <div class="r" style="height:46px"><div class="l" style="width:75px"></div><div class="v"><div>可±10°的倾斜<br>非常适合螺纹测量</div></div></div>
</div>
<div class="note" style="left:839px;top:1658px"><span class="n">* &nbsp;2010型号另需要适配器B(<b>176-310</b>)</span></div>
<div class="note" style="left:839px;top:1678px"><span class="n">* &nbsp;3017和4020型号另需要适配器</span></div>
<div class="note" style="left:853px;top:1696px"><span class="n">(<b>176-304</b>)</span></div>

<div class="tb" style="left:1195px;top:1489px;width:297px">
 <div class="r" style="height:41px"><div class="l" style="width:84px;background:#e2e5e2">货号</div><div class="v" style="background:#e9efe9;line-height:20px"><div>工作台适配器: <b>176-304</b><br>工作台适配器B: <b>176-310</b></div></div></div>
 <div class="r" style="height:68px"><div class="l" style="width:84px">应用</div><div class="v" style="line-height:20.5px"><div>将某些可选的外围设备连<br>接到测量装置时，需要用<br>到它们。</div></div></div>
</div>
<div class="note" style="left:1195px;top:1609px">注) 一套包含两个适配器</div>

<div class="tb" style="left:1195px;top:1825px;width:297px">
 <div class="r hd" style="height:23px"><div class="l" style="width:84px">货号</div><div class="v">02ATE760</div></div>
 <div class="r" style="height:26px"><div class="l" style="width:84px">外部尺寸</div><div class="v n">1800(W)×900(D)×740(H)mm</div></div>
 <div class="r" style="height:26px"><div class="l" style="width:84px">重量</div><div class="v n">60kg</div></div>
</div>

<!-- footer -->
<div class="foot"></div>
<div class="pg">8</div>
</body></html>
